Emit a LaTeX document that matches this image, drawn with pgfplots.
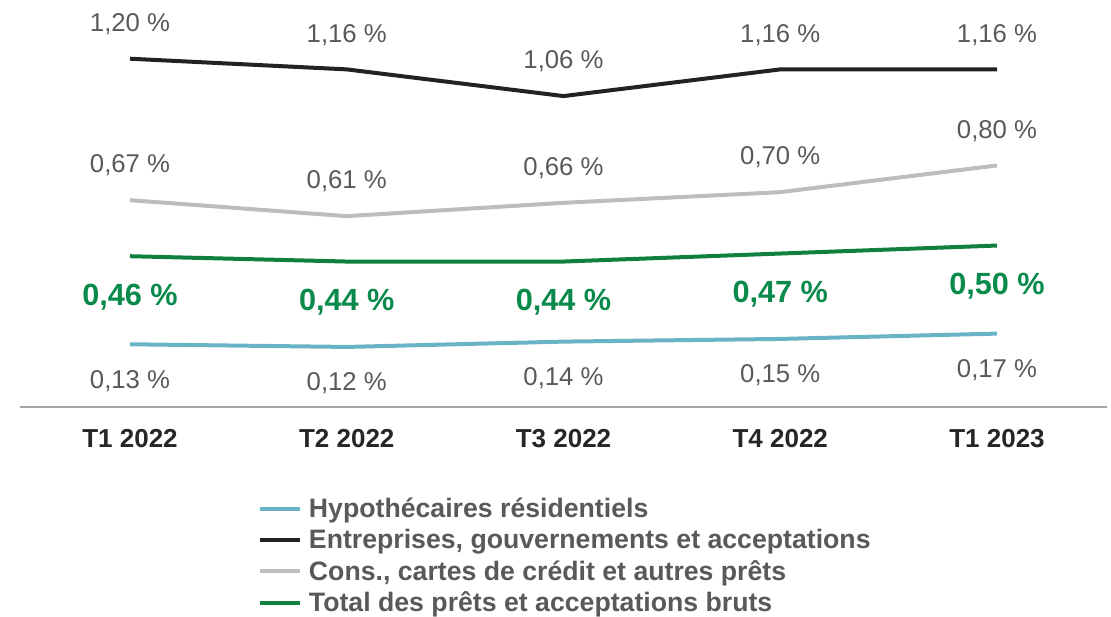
\documentclass[border=0pt]{standalone}
\usepackage{pgfplots}
\pgfplotsset{compat=1.18}
\usepackage{fontspec}
\setmainfont{Liberation Sans}
\definecolor{teal1}{HTML}{68B4C6}
\definecolor{blk1}{HTML}{222222}
\definecolor{gry1}{HTML}{BDBDBD}
\definecolor{grn1}{HTML}{11803F}
\definecolor{grnlab}{HTML}{0A8A4A}
\definecolor{txtg}{HTML}{595959}
\definecolor{axg}{HTML}{A6A6A6}
\begin{document}
\begin{tikzpicture}
\useasboundingbox (0,0) rectangle (833.25pt,462.75pt);
\begin{axis}[
  at={(15pt,157.5pt)}, anchor=south west,
  scale only axis, width=815.25pt, height=305.25pt,
  xmin=-0.5075, xmax=4.5075, ymin=-0.105, ymax=1.42,
  axis lines=none,
  xtick=data, xticklabels={T1 2022,T2 2022,T3 2022,T4 2022,T1 2023},
  ytick=\empty,
  clip=false,
  /pgf/number format/assume math mode=true,
  every node near coord/.append style={anchor=center, font=\fontsize{19.3}{22}\selectfont, text=txtg},
  nodes near coords={\pgfmathprintnumber[fixed,fixed zerofill,precision=2,use comma]{\pgfplotspointmeta}~\%},
  legend style={at={(0.219,-0.2165)}, anchor=north west, draw=none, fill=none,
    font=\fontsize{20}{24}\selectfont\bfseries, text=txtg, row sep=3.2pt,
    inner sep=0pt},
  legend cell align=left,
  legend image code/.code={\draw[#1, line width=3pt] (-1pt,0pt) -- (29pt,0pt);},
]
\addplot[teal1, line width=3pt, every node near coord/.append style={yshift=-27.5pt}] coordinates {(0,0.13) (1,0.12) (2,0.14) (3,0.15) (4,0.17)};
\addlegendentry{\hspace{3pt}Hypothécaires résidentiels}
\addplot[blk1, line width=3pt, every node near coord/.append style={yshift=26pt}] coordinates {(0,1.20) (1,1.16) (2,1.06) (3,1.16) (4,1.16)};
\addlegendentry{\hspace{3pt}Entreprises, gouvernements et acceptations}
\addplot[gry1, line width=3pt, every node near coord/.append style={yshift=26pt}] coordinates {(0,0.67) (1,0.61) (2,0.66) (3,0.70) (4,0.80)};
\addlegendentry{\hspace{3pt}Cons., cartes de crédit et autres prêts}
\addplot[grn1, line width=3pt, every node near coord/.append style={yshift=-30.5pt, text=grnlab, font=\fontsize{23}{26}\selectfont\bfseries}] coordinates {(0,0.46) (1,0.44) (2,0.44) (3,0.47) (4,0.50)};
\addlegendentry{\hspace{3pt}Total des prêts et acceptations bruts}
\draw[axg, line width=1.5pt] (rel axis cs:0,0) -- (rel axis cs:1,0);
\foreach \i/\t in {0/T1 2022,1/T2 2022,2/T3 2022,3/T4 2022,4/T1 2023}{
  \edef\tmp{\noexpand\node[font=\noexpand\fontsize{19.5}{22}\noexpand\selectfont\noexpand\bfseries, text=black!85, anchor=center] at (axis cs:\i,-0.105) [yshift=-23.5pt] {\t};}
  \tmp
}
\end{axis}
\end{tikzpicture}
\end{document}
